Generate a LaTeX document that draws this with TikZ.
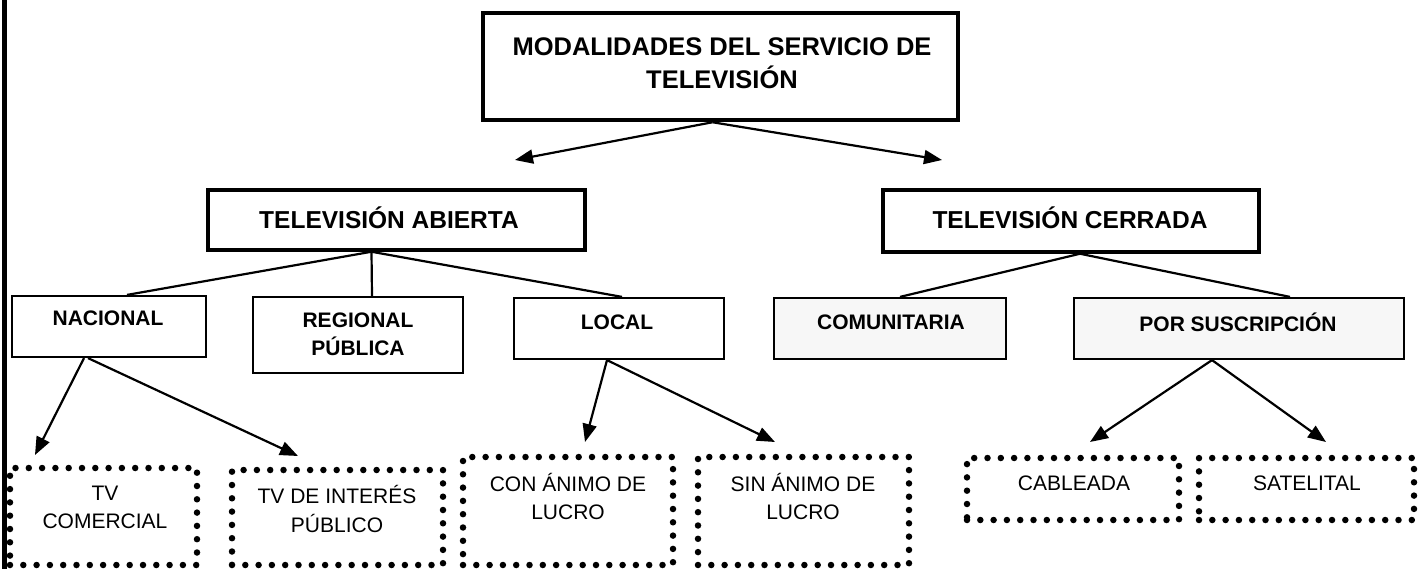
\documentclass[tikz,border=0pt]{standalone}
\usepackage{fontspec}
\setmainfont{Liberation Sans}
\usetikzlibrary{arrows.meta}
\begin{document}
\begin{tikzpicture}[x=1pt,y=-1pt,
  bigbox/.style={draw, line width=4.5pt, inner sep=0pt},
  midbox/.style={draw, line width=3.5pt, inner sep=0pt},
  smallbox/.style={draw, line width=2.2pt, inner sep=0pt},
  shadebox/.style={smallbox, fill=black!3},
  dotbox/.style={draw, line width=6.5pt, line cap=round, dash pattern=on 0pt off 13.3pt, inner sep=0pt},
  titletext/.style={font=\bfseries\fontsize{25.5}{33}\selectfont, align=center, inner sep=0pt},
  headtext/.style={font=\bfseries\fontsize{24.5}{30}\selectfont, align=center, inner sep=0pt},
  boldtext/.style={font=\bfseries\fontsize{21}{28}\selectfont, align=center, inner sep=0pt},
  plaintext/.style={font=\fontsize{21}{28.5}\selectfont, align=center, inner sep=0pt},
  link/.style={line width=2.2pt},
  arr/.style={line width=2.2pt, -{Triangle[length=18pt,width=14pt]}}]
\useasboundingbox (0,0) rectangle (1424,569);
% page border line
\draw[line width=5pt] (4,0) -- (4,569);

% title
\node[bigbox, minimum width=475pt, minimum height=107pt] (top) at (720.5,66.5) {};
\node[titletext] (toptxt) at (722,63.5) {MODALIDADES DEL SERVICIO DE\\TELEVISIÓN};

% second level
\node[midbox, minimum width=377pt, minimum height=60pt] (ab) at (396.5,220) {};
\node[headtext] (abtxt) at (389,218) {TELEVISIÓN ABIERTA};
\node[midbox, minimum width=376pt, minimum height=62pt] (ce) at (1071,221) {};
\node[headtext] (cetxt) at (1070,218) {TELEVISIÓN CERRADA};

\coordinate (tipab) at (515,160);
\coordinate (tipce) at (942,160);
\draw[arr] ([xshift=-8pt]top.south) -- (tipab);
\draw[arr] ([xshift=-8pt]top.south) -- (tipce);

% third level
\node[smallbox, minimum width=194pt, minimum height=61pt] (nac) at (109,326.5) {};
\node[boldtext] (nactxt) at (108,318) {NACIONAL};
\node[smallbox, minimum width=210pt, minimum height=76pt] (reg) at (358,335) {};
\node[boldtext] (regtxt) at (358,334) {REGIONAL\\PÚBLICA};
\node[smallbox, minimum width=210pt, minimum height=61pt] (loc) at (619,328.5) {};
\node[boldtext] (loctxt) at (617,322) {LOCAL};
\node[shadebox, minimum width=232pt, minimum height=61pt] (com) at (890,328.5) {};
\node[boldtext] (comtxt) at (891,322) {COMUNITARIA};
\node[shadebox, minimum width=330pt, minimum height=61pt] (sus) at (1239,328.5) {};
\node[boldtext] (sustxt) at (1238,322) {POR SUSCRIPCIÓN};

\draw[link] ([xshift=-25pt]ab.south) -- ([xshift=18pt]nac.north);
\draw[link] ([xshift=-25pt]ab.south) -- ([xshift=14pt]reg.north);
\draw[link] ([xshift=-25pt]ab.south) -- ([xshift=3pt]loc.north);
\draw[link] ([xshift=9pt]ce.south) -- ([xshift=10pt]com.north);
\draw[link] ([xshift=9pt]ce.south) -- ([xshift=51pt]sus.north);

% fourth level
\node[dotbox, minimum width=187pt, minimum height=97pt] (com1) at (103.5,516.5) {};
\node[plaintext] (com1txt) at (105,507.5) {TV\\COMERCIAL};
\node[dotbox, minimum width=211pt, minimum height=95pt] (int) at (337.5,517.5) {};
\node[plaintext] (inttxt) at (337,509) {TV DE INTERÉS\\PÚBLICO};
\node[dotbox, minimum width=210pt, minimum height=108pt] (con) at (568,511) {};
\node[plaintext] (contxt) at (568,496.5) {CON ÁNIMO DE\\LUCRO};
\node[dotbox, minimum width=211pt, minimum height=108pt] (sin) at (803.5,511) {};
\node[plaintext] (sintxt) at (803,496.5) {SIN ÁNIMO DE\\LUCRO};
\node[dotbox, minimum width=212pt, minimum height=62pt] (cab) at (1073,489) {};
\node[plaintext] (cabtxt) at (1074,483) {CABLEADA};
\node[dotbox, minimum width=215pt, minimum height=62pt] (sat) at (1306.5,489) {};
\node[plaintext] (sattxt) at (1307,483) {SATELITAL};

\coordinate (t1) at (35,455);
\coordinate (t2) at (298,456);
\coordinate (t3) at (585,442);
\coordinate (t4) at (775,442);
\coordinate (t5) at (1090,442);
\coordinate (t6) at (1326,442);
\draw[arr] ([xshift=-25pt]nac.south) -- (t1);
\draw[arr] ([xshift=-21pt]nac.south) -- (t2);
\draw[arr] ([xshift=-12pt]loc.south) -- (t3);
\draw[arr] ([xshift=-12pt]loc.south) -- (t4);
\draw[arr] ([xshift=-27pt]sus.south) -- (t5);
\draw[arr] ([xshift=-27pt]sus.south) -- (t6);
\end{tikzpicture}
\end{document}
